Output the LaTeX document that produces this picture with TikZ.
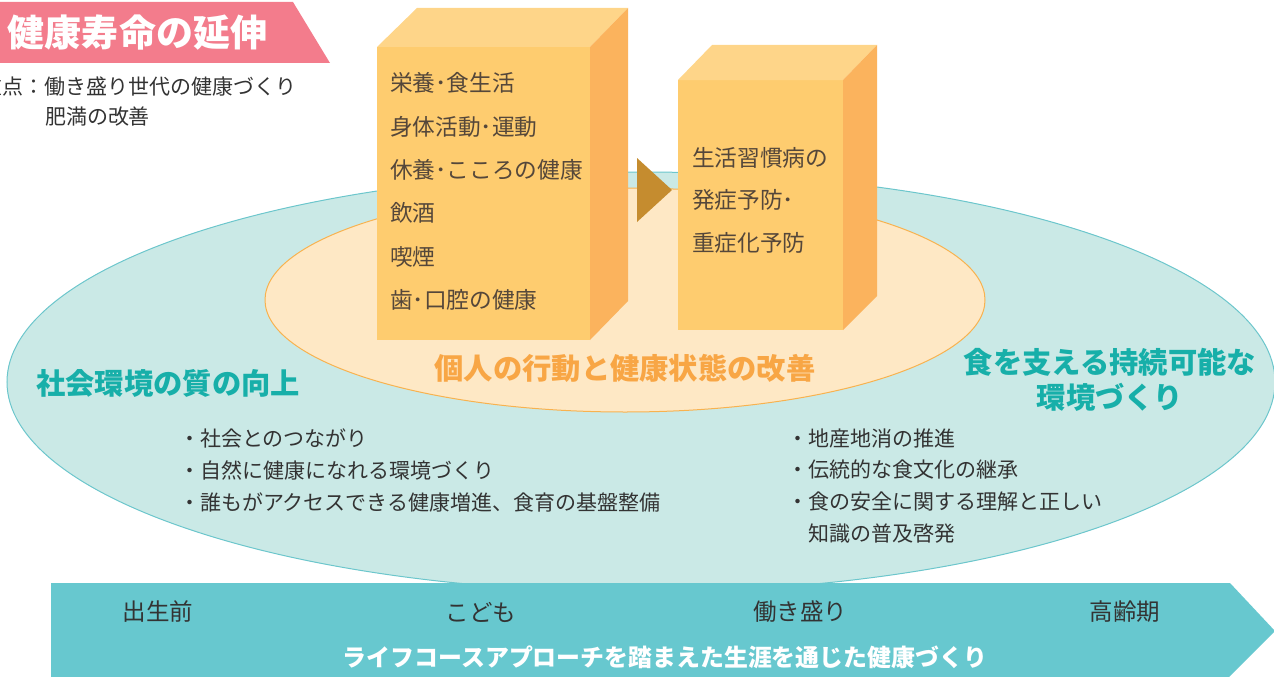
\documentclass[tikz,border=0pt]{standalone}
\usepackage{fontspec}
\setmainfont{Noto Sans CJK JP}
\definecolor{bannerpink}{HTML}{F37C8C}
\definecolor{tealfill}{HTML}{CAE9E6}
\definecolor{tealline}{HTML}{6CC6CC}
\definecolor{orgfill}{HTML}{FEE8C5}
\definecolor{orgline}{HTML}{F8B24F}
\definecolor{boxfront}{HTML}{FECC6F}
\definecolor{boxtop}{HTML}{FED589}
\definecolor{boxside}{HTML}{FBB35D}
\definecolor{arrowbrown}{HTML}{C58C2F}
\definecolor{boxtext}{HTML}{55473A}
\definecolor{orghead}{HTML}{F8A645}
\definecolor{tealhead}{HTML}{17AFA9}
\definecolor{band}{HTML}{67C8CF}
\definecolor{darktext}{HTML}{333333}
\newcommand{\fs}[1]{\fontsize{#1}{#1}\selectfont}
\tikzset{
  txt/.style={inner sep=0pt, outer sep=0pt, anchor=west},
  boxline/.style={txt, text=boxtext, font=\fs{22.7}},
  listline/.style={txt, text=darktext, font=\fs{21}},
  bandlabel/.style={inner sep=0pt, text=darktext, font=\fs{23.5}},
  tealtitle/.style={inner sep=0pt, text=tealhead, font=\bfseries\fs{29.3}},
}
\begin{document}
\begin{tikzpicture}[x=1pt,y=-1pt]
\useasboundingbox (0,0) rectangle (1274,677);
% big ellipse
\draw[fill=tealfill, draw=tealline, line width=1pt] (641,382) ellipse [x radius=634, y radius=210];
% inner ellipse
\draw[fill=orgfill, draw=orgline, line width=1pt] (625,300) ellipse [x radius=360, y radius=112];
% box 1
\fill[boxfront] (377,47) rectangle (590,340);
\fill[boxtop] (377,47) -- (417,8) -- (628,8) -- (590,47) -- cycle;
\fill[boxside] (590,47) -- (628,8) -- (628,301) -- (590,340) -- cycle;
% box 2
\fill[boxfront] (678,80) rectangle (843,330);
\fill[boxtop] (678,80) -- (712,45) -- (877,45) -- (843,80) -- cycle;
\fill[boxside] (843,80) -- (877,45) -- (877,296) -- (843,330) -- cycle;
% arrow
\fill[arrowbrown] (637,158) -- (672,190) -- (637,222) -- cycle;
% box 1 text
\node[boxline] (b1) at (390,83) {栄養･食生活};
\node[boxline] (b2) at (390,127) {身体活動･運動};
\node[boxline] (b3) at (390,170) {休養･こころの健康};
\node[boxline] (b4) at (390,213) {飲酒};
\node[boxline] (b5) at (390,257) {喫煙};
\node[boxline] (b6) at (390,300) {歯･口腔の健康};
% box 2 text
\node[boxline] (c1) at (692,158) {生活習慣病の};
\node[boxline] (c2) at (692,200) {発症予防･};
\node[boxline] (c3) at (692,243) {重症化予防};
% headings
\node[inner sep=0pt, text=orghead, font=\bfseries\fs{29.3}] (indiv) at (625,368) {個人の行動と健康状態の改善};
\node[tealtitle, anchor=west] (social) at (36,383) {社会環境の質の向上};
\node[tealtitle] (food1) at (1110,362) {食を支える持続可能な};
\node[tealtitle] (food2) at (1110,397) {環境づくり};
% lists
\node[listline] (l1) at (179,438) {・社会とのつながり};
\node[listline] (l2) at (179,470) {・自然に健康になれる環境づくり};
\node[listline] (r1) at (787,438) {・地産地消の推進};
\node[listline] (l3) at (179,502) {・誰もがアクセスできる健康増進、食育の基盤整備};
\node[listline] (r2) at (787,470) {・伝統的な食文化の継承};
\node[listline] (r3) at (787,502) {・食の安全に関する理解と正しい};
\node[listline] (r4) at (808,534) {知識の普及啓発};
% band
\fill[band] (51,583) -- (1230,583) -- (1275,631) -- (1227,679) -- (51,679) -- cycle;
\node[bandlabel] (s1) at (158,612) {出生前};
\node[bandlabel] (s2) at (481,612) {こども};
\node[bandlabel] (s3) at (800,612) {働き盛り};
\node[bandlabel] (s4) at (1125,612) {高齢期};
\node[inner sep=0pt, text=white, font=\bfseries\fs{23.9}] (life) at (665,657) {ライフコースアプローチを踏まえた生涯を通じた健康づくり};
% banner
\fill[bannerpink] (-2,2) -- (293,2) -- (330,63) -- (-2,63) -- cycle;
\node[txt, text=white, font=\bfseries\fs{37}] (title) at (8,33) {健康寿命の延伸};
\node[txt, text=darktext, font=\fs{21}] (sub1) at (-18,87) {重点：働き盛り世代の健康づくり};
\node[txt, text=darktext, font=\fs{21}] (sub2) at (45,117) {肥満の改善};
\end{tikzpicture}
\end{document}
